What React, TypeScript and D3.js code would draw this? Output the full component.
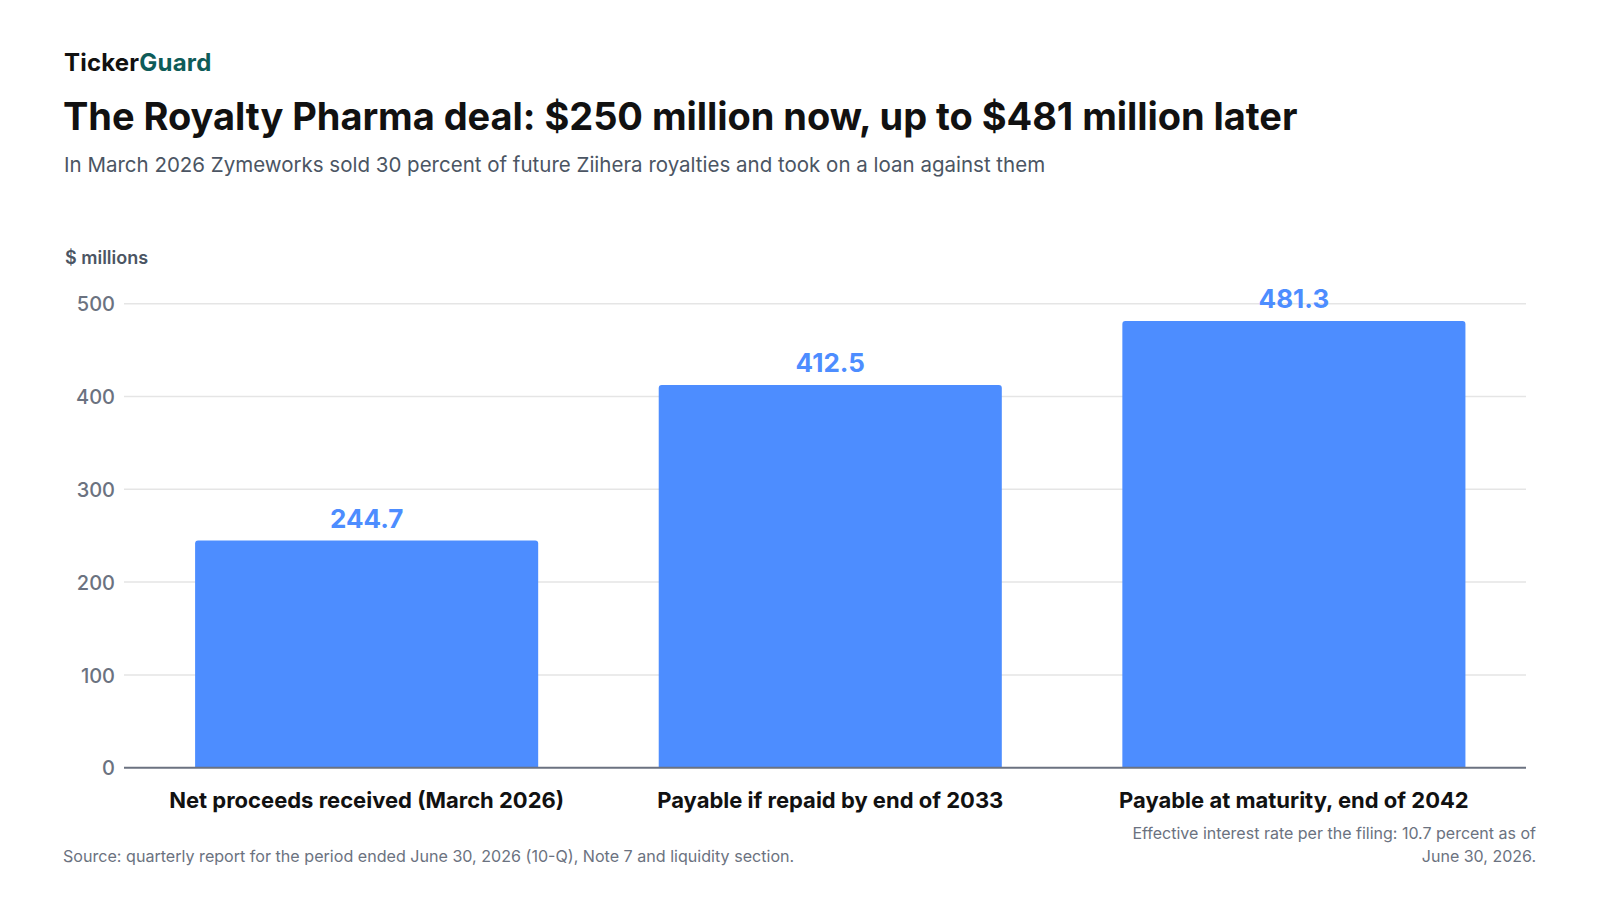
import React, { useEffect, useRef } from 'react';
import * as d3 from 'd3';

const categories = [
  'Net proceeds received (March 2026)',
  'Payable if repaid by end of 2033',
  'Payable at maturity, end of 2042',
];
const amounts = [244.7, 412.5, 481.3];
const yTicks = [0, 100, 200, 300, 400, 500];

const FONT = 'Inter, "Noto Sans", sans-serif';
const BAR_COLOR = '#4d8dff';

export default function App() {
  const svgRef = useRef<SVGSVGElement>(null);

  useEffect(() => {
    document.body.style.margin = '0';
    if (!svgRef.current) return;
    const svg = d3.select(svgRef.current);
    svg.selectAll('*').remove();

    const width = 1600;
    const height = 900;
    const plot = { left: 124, right: 1526, top: 303.7, bottom: 767.7 };

    svg.attr('width', width).attr('height', height).attr('viewBox', `0 0 ${width} ${height}`);
    svg.append('rect').attr('width', width).attr('height', height).attr('fill', '#ffffff');

    // Header
    const brand = svg.append('text')
      .attr('x', 64)
      .attr('y', 71)
      .style('font-family', FONT)
      .style('font-size', '24px')
      .style('font-weight', '700')
      .style('letter-spacing', '0.2px');
    brand.append('tspan').attr('fill', '#111111').text('Ticker');
    brand.append('tspan').attr('fill', '#0e5c59').text('Guard');

    svg.append('text')
      .attr('x', 63)
      .attr('y', 130)
      .attr('fill', '#111111')
      .style('font-family', FONT)
      .style('font-size', '38px')
      .style('font-weight', '700')
      .style('letter-spacing', '-0.05px')
      .text('The Royalty Pharma deal: $250 million now, up to $481 million later');

    svg.append('text')
      .attr('x', 64)
      .attr('y', 172)
      .attr('fill', '#4b5563')
      .style('font-family', FONT)
      .style('font-size', '20.5px')
      .text('In March 2026 Zymeworks sold 30 percent of future Ziihera royalties and took on a loan against them');

    svg.append('text')
      .attr('x', 65)
      .attr('y', 264)
      .attr('fill', '#4b5563')
      .style('font-family', FONT)
      .style('font-size', '18px')
      .style('font-weight', '600')
      .text('$ millions');

    // Scales
    const x = d3.scaleBand<string>()
      .domain(categories)
      .range([plot.left, plot.right])
      .paddingInner(0.26)
      .paddingOuter(0.142)
      .align(0.54);

    const y = d3.scaleLinear()
      .domain([0, 500])
      .range([plot.bottom, plot.top]);

    // Gridlines
    svg.append('g')
      .selectAll('line')
      .data(yTicks.filter(d => d > 0))
      .enter()
      .append('line')
      .attr('x1', plot.left)
      .attr('x2', plot.right)
      .attr('y1', d => y(d))
      .attr('y2', d => y(d))
      .attr('stroke', '#e5e5e5')
      .attr('stroke-width', 1.5);

    // Y tick labels
    const yAxis = svg.append('g')
      .attr('transform', `translate(${plot.left}, 0)`)
      .call(d3.axisLeft(y).tickValues(yTicks).tickSize(0).tickPadding(9).tickFormat(d3.format('d')));
    yAxis.select('.domain').remove();
    yAxis.selectAll('text')
      .attr('fill', '#6b7280')
      .attr('dy', '0.36em')
      .style('font-family', FONT)
      .style('font-size', '20px')
      .style('font-weight', '500');

    // Bars with rounded top corners
    const r = 3;
    svg.append('g')
      .selectAll('path')
      .data(amounts)
      .enter()
      .append('path')
      .attr('fill', BAR_COLOR)
      .attr('d', (d, i) => {
        const x0 = x(categories[i]) || 0;
        const x1 = x0 + x.bandwidth();
        const top = y(d);
        const bottom = y(0);
        return `M${x0},${bottom}V${top + r}Q${x0},${top} ${x0 + r},${top}H${x1 - r}Q${x1},${top} ${x1},${top + r}V${bottom}Z`;
      });

    // Value labels
    svg.append('g')
      .selectAll('text')
      .data(amounts)
      .enter()
      .append('text')
      .attr('x', (d, i) => (x(categories[i]) || 0) + x.bandwidth() / 2)
      .attr('y', d => y(d) - 13)
      .attr('text-anchor', 'middle')
      .attr('fill', BAR_COLOR)
      .style('font-family', FONT)
      .style('font-size', '26px')
      .style('font-weight', '700')
      .text(d => d3.format('.1f')(d));

    // Baseline
    svg.append('line')
      .attr('x1', plot.left)
      .attr('x2', plot.right)
      .attr('y1', y(0))
      .attr('y2', y(0))
      .attr('stroke', '#6b7280')
      .attr('stroke-width', 2);

    // Category labels
    const xAxis = svg.append('g')
      .attr('transform', `translate(0, ${plot.bottom})`)
      .call(d3.axisBottom(x).tickSize(0).tickPadding(0));
    xAxis.select('.domain').remove();
    xAxis.selectAll('text')
      .attr('y', 40)
      .attr('dy', 0)
      .attr('fill', '#111111')
      .style('font-family', FONT)
      .style('font-size', '22px')
      .style('font-weight', '700');

    // Footer
    svg.append('text')
      .attr('x', 63)
      .attr('y', 862)
      .attr('fill', '#6b7280')
      .style('font-family', FONT)
      .style('font-size', '16.1px')
      .text('Source: quarterly report for the period ended June 30, 2026 (10-Q), Note 7 and liquidity section.');

    const note = svg.append('text')
      .attr('text-anchor', 'end')
      .attr('fill', '#6b7280')
      .style('font-family', FONT)
      .style('font-size', '16px');
    note.append('tspan').attr('x', 1536).attr('y', 839).text('Effective interest rate per the filing: 10.7 percent as of');
    note.append('tspan').attr('x', 1536).attr('y', 862).text('June 30, 2026.');
  }, []);

  return (
    <div style={{ width: 1600, height: 900, background: '#ffffff' }}>
      <svg ref={svgRef} style={{ display: 'block' }} />
    </div>
  );
}
